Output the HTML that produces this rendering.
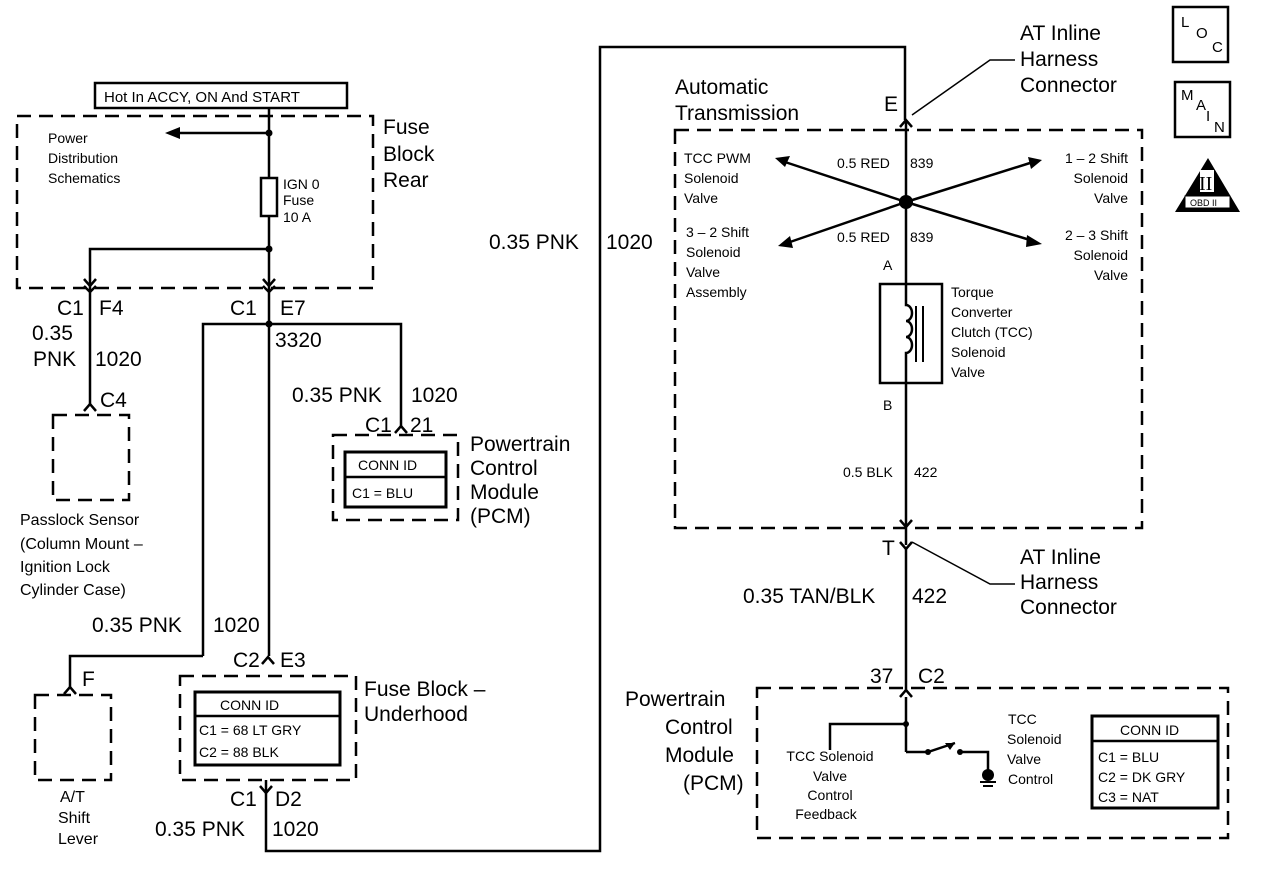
<!DOCTYPE html>
<html><head><meta charset="utf-8"><style>
html,body{margin:0;padding:0;background:#fff}
svg{display:block}
text{font-family:"Liberation Sans",Arial,sans-serif;fill:#000}
.b{font-size:21px}
.m{font-size:15px}
.s{font-size:14px}
</style></head><body>
<svg width="1264" height="872" viewBox="0 0 1264 872" xmlns="http://www.w3.org/2000/svg">
<g fill="none" stroke="#000" stroke-width="2.5">
<rect x="95" y="83" width="252" height="25"/>
<rect x="17" y="116" width="356" height="172" stroke-dasharray="14,8"/>
<rect x="53" y="415" width="76" height="85" stroke-dasharray="14,8"/>
<rect x="333" y="435" width="125" height="85" stroke-dasharray="14,8"/>
<rect x="345" y="452" width="101" height="55" stroke-width="3"/>
<line x1="345" y1="477" x2="446" y2="477"/>
<rect x="35" y="695" width="76" height="85" stroke-dasharray="14,8"/>
<rect x="180" y="676" width="176" height="104" stroke-dasharray="14,8"/>
<rect x="195" y="692" width="145" height="73" stroke-width="3"/>
<line x1="195" y1="716" x2="340" y2="716"/>
<rect x="675" y="130" width="467" height="398" stroke-dasharray="14,8"/>
<rect x="757" y="688" width="471" height="150" stroke-dasharray="14,8"/>
<rect x="1092" y="716" width="126" height="92" stroke-width="3"/>
<line x1="1092" y1="741" x2="1218" y2="741"/>
<!-- wires left -->
<line x1="269" y1="108" x2="269" y2="178"/>
<rect x="261" y="178" width="16" height="38"/>
<line x1="269" y1="216" x2="269" y2="656"/>
<line x1="269" y1="133" x2="178" y2="133"/>
<polyline points="269,249 90,249 90,405"/>
<polyline points="203,656 203,324 401,324 401,428"/>
<polyline points="203,656 70,656 70,688"/>
<polyline points="266,780 266,851 600,851 600,47 905,47 905,120"/>
<!-- connectors -->
<polyline points="84,279 90,286 96,279"/><polyline points="84,286 90,292 96,286"/>
<polyline points="263,279 269,286 275,279"/><polyline points="263,286 269,292 275,286"/>
<polyline points="84,411 90,404 96,411"/>
<polyline points="395,433 401,426 407,433"/>
<polyline points="64,694 70,687 76,694"/>
<polyline points="262,664 268,657 274,664"/>
<polyline points="260,786 266,793 272,786"/>
<!-- right -->
<line x1="906" y1="120" x2="906" y2="284"/>
<line x1="906" y1="383" x2="906" y2="545"/>
<polyline points="900,127 906,120 912,127"/>
<polyline points="900,520 906,527 912,520"/>
<polyline points="900,542 906,549 912,542"/>
<line x1="906" y1="549" x2="906" y2="690"/>
<polyline points="900,697 906,690 912,697"/>
<rect x="880" y="284" width="62" height="99"/>
<path d="M906,284 V305 a6,8 0 0 1 0,16 a6,8 0 0 1 0,16 a6,8 0 0 1 0,16 V383"/>
<line x1="916" y1="306" x2="916" y2="362" stroke-width="2"/>
<line x1="923" y1="306" x2="923" y2="362" stroke-width="2"/>
<line x1="906" y1="202" x2="785" y2="162"/>
<line x1="906" y1="202" x2="1030" y2="163"/>
<line x1="906" y1="202" x2="790" y2="242"/>
<line x1="906" y1="202" x2="1030" y2="240"/>
<polyline points="912,115 990,60 1015,60" stroke-width="1.5"/>
<polyline points="912,542 990,584 1015,584" stroke-width="1.5"/>
<!-- PCM internals -->
<line x1="906" y1="697" x2="906" y2="752"/>
<polyline points="830,750 830,724 906,724"/>
<polyline points="906,752 928,752 955,743"/>
<polyline points="960,752 988,752 988,770"/>
<rect x="1173" y="7" width="55" height="55"/>
<rect x="1175" y="82" width="55" height="55"/>
</g>
<g fill="#000">
<polygon points="165,133 180,127 180,139"/>
<circle cx="269" cy="133" r="3.5"/><circle cx="269" cy="249" r="3.5"/><circle cx="269" cy="324" r="3.5"/>
<circle cx="906" cy="202" r="7"/>
<polygon points="775,158 790,156 785,167"/>
<polygon points="1042,160 1028,157 1031,169"/>
<polygon points="778,246 790,236 793,248"/>
<polygon points="1042,244 1027,235 1026,247"/>
<circle cx="906" cy="724" r="3"/>
<circle cx="928" cy="752" r="3"/><circle cx="960" cy="752" r="3"/>
<polygon points="955,743 945,743 950,750"/>
<circle cx="988" cy="775" r="6"/>
<rect x="980" y="781" width="16" height="2"/><rect x="983" y="785" width="10" height="2"/>
<polygon points="1175,212 1240,212 1208,158"/>
</g>
<rect x="1185" y="196" width="45" height="12" fill="#fff" stroke="#000"/>
<text x="1190" y="206" style="font-size:9px">OBD II</text>
<rect x="1200" y="170" width="14" height="22" fill="#fff"/>
<text x="1199" y="190" style="font-size:20px;font-family:'Liberation Serif',serif">II</text>
<text x="1181" y="27" class="m">L</text><text x="1196" y="38" class="m">O</text><text x="1212" y="52" class="m">C</text>
<text x="1181" y="100" class="m">M</text><text x="1196" y="110" class="m">A</text><text x="1206" y="121" class="m">I</text><text x="1214" y="132" class="m">N</text>

<text x="104" y="102" class="m">Hot In ACCY, ON And START</text>
<text x="48" y="143" class="s">Power</text><text x="48" y="163" class="s">Distribution</text><text x="48" y="183" class="s">Schematics</text>
<text x="283" y="189" class="s">IGN 0</text><text x="283" y="205" class="s">Fuse</text><text x="283" y="222" class="s">10 A</text>
<text x="383" y="134" class="b">Fuse</text><text x="383" y="161" class="b">Block</text><text x="383" y="187" class="b">Rear</text>
<text x="57" y="315" class="b">C1</text><text x="99" y="315" class="b">F4</text>
<text x="230" y="315" class="b">C1</text><text x="280" y="315" class="b">E7</text>
<text x="32" y="340" class="b">0.35</text><text x="33" y="366" class="b">PNK</text><text x="95" y="366" class="b">1020</text>
<text x="275" y="347" class="b">3320</text>
<text x="100" y="407" class="b">C4</text>
<text x="292" y="402" class="b">0.35 PNK</text><text x="411" y="402" class="b">1020</text>
<text x="365" y="432" class="b">C1</text><text x="410" y="432" class="b">21</text>
<text x="358" y="470" class="s">CONN ID</text><text x="352" y="498" class="s">C1 = BLU</text>
<text x="470" y="451" class="b">Powertrain</text><text x="470" y="475" class="b">Control</text><text x="470" y="499" class="b">Module</text><text x="470" y="523" class="b">(PCM)</text>
<text x="20" y="525" class="m" style="font-size:16px">Passlock Sensor</text><text x="20" y="549" style="font-size:16px">(Column Mount –</text><text x="20" y="572" style="font-size:16px">Ignition Lock</text><text x="20" y="595" style="font-size:16px">Cylinder Case)</text>
<text x="92" y="632" class="b">0.35 PNK</text><text x="213" y="632" class="b">1020</text>
<text x="82" y="686" class="b">F</text>
<text x="233" y="667" class="b">C2</text><text x="280" y="667" class="b">E3</text>
<text x="220" y="710" class="s">CONN ID</text><text x="199" y="735" class="s">C1 = 68 LT GRY</text><text x="199" y="757" class="s">C2 = 88 BLK</text>
<text x="364" y="696" class="b">Fuse Block –</text><text x="364" y="721" class="b">Underhood</text>
<text x="60" y="802" style="font-size:16px">A/T</text><text x="58" y="823" style="font-size:16px">Shift</text><text x="58" y="844" style="font-size:16px">Lever</text>
<text x="230" y="806" class="b">C1</text><text x="275" y="806" class="b">D2</text>
<text x="155" y="836" class="b">0.35 PNK</text><text x="272" y="836" class="b">1020</text>
<text x="489" y="249" class="b">0.35 PNK</text><text x="606" y="249" class="b">1020</text>
<text x="675" y="94" class="b">Automatic</text><text x="675" y="120" class="b">Transmission</text>
<text x="884" y="111" class="b">E</text>
<text x="1020" y="40" class="b">AT Inline</text><text x="1020" y="66" class="b">Harness</text><text x="1020" y="92" class="b">Connector</text>
<text x="684" y="163" class="s">TCC PWM</text><text x="684" y="183" class="s">Solenoid</text><text x="684" y="203" class="s">Valve</text>
<text x="686" y="237" class="s">3 – 2 Shift</text><text x="686" y="257" class="s">Solenoid</text><text x="686" y="277" class="s">Valve</text><text x="686" y="297" class="s">Assembly</text>
<text x="837" y="168" class="s">0.5 RED</text><text x="910" y="168" class="s">839</text>
<text x="837" y="242" class="s">0.5 RED</text><text x="910" y="242" class="s">839</text>
<text x="1128" y="163" class="s" text-anchor="end">1 – 2 Shift</text><text x="1128" y="183" class="s" text-anchor="end">Solenoid</text><text x="1128" y="203" class="s" text-anchor="end">Valve</text>
<text x="1128" y="240" class="s" text-anchor="end">2 – 3 Shift</text><text x="1128" y="260" class="s" text-anchor="end">Solenoid</text><text x="1128" y="280" class="s" text-anchor="end">Valve</text>
<text x="883" y="270" class="s">A</text><text x="883" y="410" class="s">B</text>
<text x="951" y="297" class="s">Torque</text><text x="951" y="317" class="s">Converter</text><text x="951" y="337" class="s">Clutch (TCC)</text><text x="951" y="357" class="s">Solenoid</text><text x="951" y="377" class="s">Valve</text>
<text x="843" y="477" class="s">0.5 BLK</text><text x="914" y="477" class="s">422</text>
<text x="882" y="555" class="b">T</text>
<text x="1020" y="564" class="b">AT Inline</text><text x="1020" y="589" class="b">Harness</text><text x="1020" y="614" class="b">Connector</text>
<text x="743" y="603" class="b">0.35 TAN/BLK</text><text x="912" y="603" class="b">422</text>
<text x="870" y="683" class="b">37</text><text x="918" y="683" class="b">C2</text>
<text x="625" y="706" class="b">Powertrain</text><text x="665" y="734" class="b">Control</text><text x="665" y="762" class="b">Module</text><text x="683" y="790" class="b">(PCM)</text>
<text x="830" y="761" class="s" text-anchor="middle">TCC Solenoid</text><text x="830" y="781" class="s" text-anchor="middle">Valve</text><text x="830" y="800" class="s" text-anchor="middle">Control</text><text x="826" y="819" class="s" text-anchor="middle">Feedback</text>
<text x="1008" y="724" class="s">TCC</text><text x="1007" y="744" class="s">Solenoid</text><text x="1007" y="764" class="s">Valve</text><text x="1008" y="784" class="s">Control</text>
<text x="1120" y="735" class="s">CONN ID</text><text x="1098" y="762" class="s">C1 = BLU</text><text x="1098" y="782" class="s">C2 = DK GRY</text><text x="1098" y="802" class="s">C3 = NAT</text>
</svg>
</body></html>
